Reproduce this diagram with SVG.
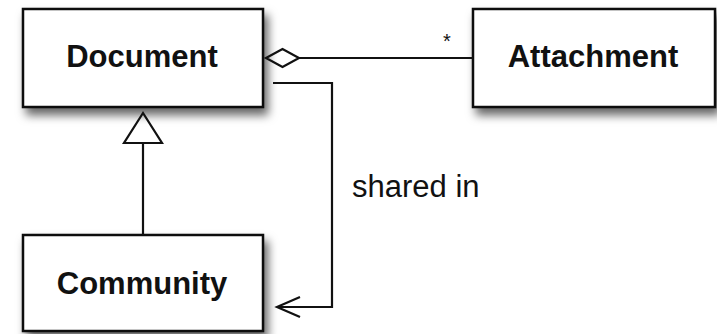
<svg xmlns="http://www.w3.org/2000/svg" width="717" height="334" viewBox="0 0 717 334">
<defs>
<filter id="sh" x="-10%" y="-10%" width="130%" height="150%">
<feDropShadow dx="4" dy="7" stdDeviation="5" flood-color="#000" flood-opacity="0.6"/>
</filter>
<style>
.box{fill:#fff;stroke:#111;stroke-width:2.5;filter:url(#sh)}
.lbl{font-family:"Liberation Sans",Arial,sans-serif;font-weight:bold;font-size:31px;fill:#111;text-anchor:middle}
.ln{fill:none;stroke:#111;stroke-width:2.2}
.txt{font-family:"Liberation Sans",Arial,sans-serif;font-size:31px;fill:#111}
</style>
</defs>
<rect width="717" height="334" fill="#fff"/>
<g id="Document"><rect class="box" x="23" y="9" width="240" height="98"/><text class="lbl" x="142" y="67">Document</text></g>
<g id="Attachment"><rect class="box" x="473" y="9" width="242" height="98"/><text class="lbl" x="593" y="67">Attachment</text></g>
<g id="Community"><rect class="box" x="23" y="235" width="240" height="96"/><text class="lbl" x="142" y="294">Community</text></g>
<g id="connectors">
<path class="ln" d="M299,58 H473"/>
<path class="ln" d="M266,58 L282.5,49 L299,58 L282.5,67 Z" fill="#fff"/>
<text class="txt" x="443" y="48" style="font-size:20px">*</text>
<path class="ln" d="M143,143 V235"/>
<path class="ln" d="M143,113 L124,143 H162 Z" fill="#fff"/>
<path class="ln" d="M273,83 H332 V307 H277"/>
<path class="ln" d="M300,297 L277,307 L300,317"/>
<text class="txt" x="352" y="197">shared in</text>
</g>
</svg>
